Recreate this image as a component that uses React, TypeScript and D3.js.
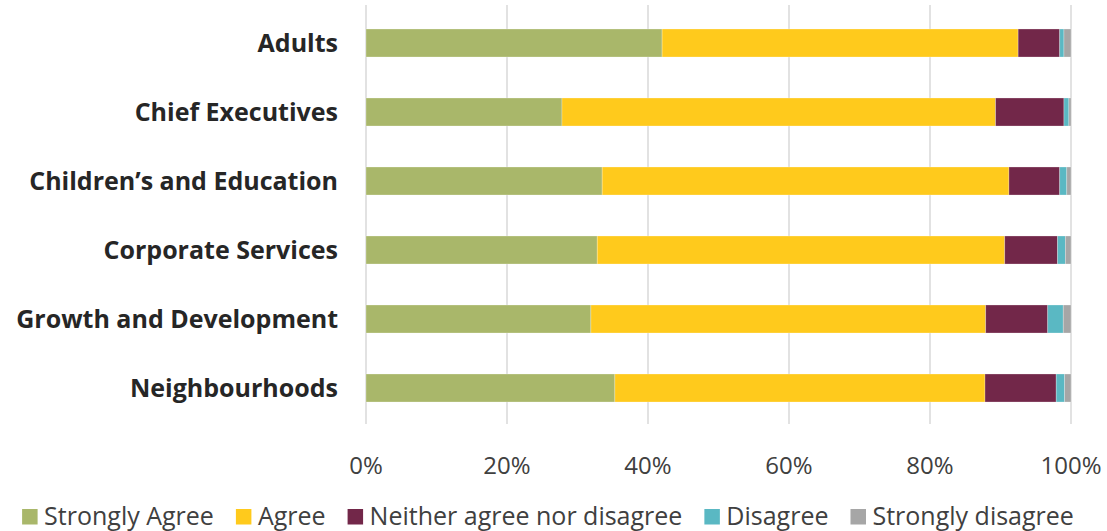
import React, { useEffect, useRef } from "react";
import * as d3 from "d3";

const categories = ["Adults", "Chief Executives", "Children\u2019s and Education", "Corporate Services", "Growth and Development", "Neighbourhoods"];
const seriesNames = ["Strongly Agree", "Agree", "Neither agree nor disagree", "Disagree", "Strongly disagree"];
const seriesColors = ["#A9B76A", "#FFCA1C", "#722749", "#5AB8C3", "#A6A6A6"];
const stronglyAgree = [42.0, 27.8, 33.5, 32.8, 31.9, 35.3];
const agree = [50.5, 61.5, 57.7, 57.8, 56.0, 52.5];
const neither = [5.9, 9.7, 7.2, 7.5, 8.8, 10.1];
const disagree = [0.6, 0.7, 1.0, 1.1, 2.2, 1.2];
const stronglyDisagree = [1.0, 0.3, 0.6, 0.8, 1.1, 0.9];
const tickValues = [0, 20, 40, 60, 80, 100];

const W = 1107, H = 531;
const FONT = "'Open Sans', 'Noto Sans', sans-serif";

export default function App() {
  const ref = useRef<SVGSVGElement>(null);
  useEffect(() => {
    const svg = d3.select(ref.current);
    svg.selectAll("*").remove();
    const x = d3.scaleLinear().domain([0, 100]).range([366, 1071]);
    const y = d3.scaleBand().domain(categories).range([8.5, 422.5]).paddingInner(0.594).paddingOuter(0.297);

    // gridlines
    svg.append("g").selectAll("line").data(tickValues).join("line")
      .attr("x1", d => x(d)).attr("x2", d => x(d))
      .attr("y1", 5).attr("y2", 424)
      .attr("stroke", "#D9D9D9").attr("stroke-width", 1.5);

    const series = [stronglyAgree, agree, neither, disagree, stronglyDisagree];
    const rows = categories.map((c, i) => {
      const o: any = { cat: c };
      seriesNames.forEach((s, j) => (o[s] = series[j][i]));
      return o;
    });
    const stacked = d3.stack().keys(seriesNames)(rows);
    const g = svg.append("g");
    stacked.forEach((layer, j) => {
      g.append("g").selectAll("rect").data(layer).join("rect")
        .attr("x", d => x(d[0]))
        .attr("width", d => Math.max(0, x(d[1]) - x(d[0])))
        .attr("y", (d: any) => y(d.data.cat)!)
        .attr("height", y.bandwidth())
        .attr("fill", seriesColors[j])
        .attr("stroke", "#ffffff").attr("stroke-opacity", 0.35).attr("stroke-width", 0.75);
    });

    // category labels
    svg.append("g").selectAll("text").data(categories).join("text")
      .attr("x", 338).attr("y", d => y(d)! + y.bandwidth() / 2)
      .attr("dy", "0.36em").attr("text-anchor", "end")
      .attr("font-family", FONT).attr("font-weight", 700).attr("font-size", 25)
      .attr("fill", "#262626").text(d => d);

    // ticks
    svg.append("g").selectAll("text").data(tickValues).join("text")
      .attr("x", d => x(d)).attr("y", 474).attr("text-anchor", "middle")
      .attr("font-family", FONT).attr("font-size", 24).attr("fill", "#404040")
      .text(d => d + "%");

    // legend
    const lg = svg.append("g");
    const items = lg.selectAll("g").data(seriesNames).join("g");
    items.append("rect").attr("width", 15.5).attr("height", 15.5).attr("y", 509)
      .attr("fill", (d, i) => seriesColors[i]);
    items.append("text").attr("x", 22).attr("y", 524.5)
      .attr("font-family", FONT).attr("font-size", 25).attr("fill", "#404040")
      .text(d => d);
    let cx = 0;
    const offs: number[] = [];
    items.each(function () {
      offs.push(cx);
      const t = (this as SVGGElement).querySelector("text") as SVGTextElement;
      cx += 22 + t.getComputedTextLength() + 22;
    });
    const total = cx - 22;
    const start = (14 + 1082) / 2 - total / 2;
    items.attr("transform", (d, i) => `translate(${start + offs[i]},0)`);
  }, []);
  return (
    <svg ref={ref} width={W} height={H} style={{ position: "absolute", left: 0, top: 0 }} />
  );
}
